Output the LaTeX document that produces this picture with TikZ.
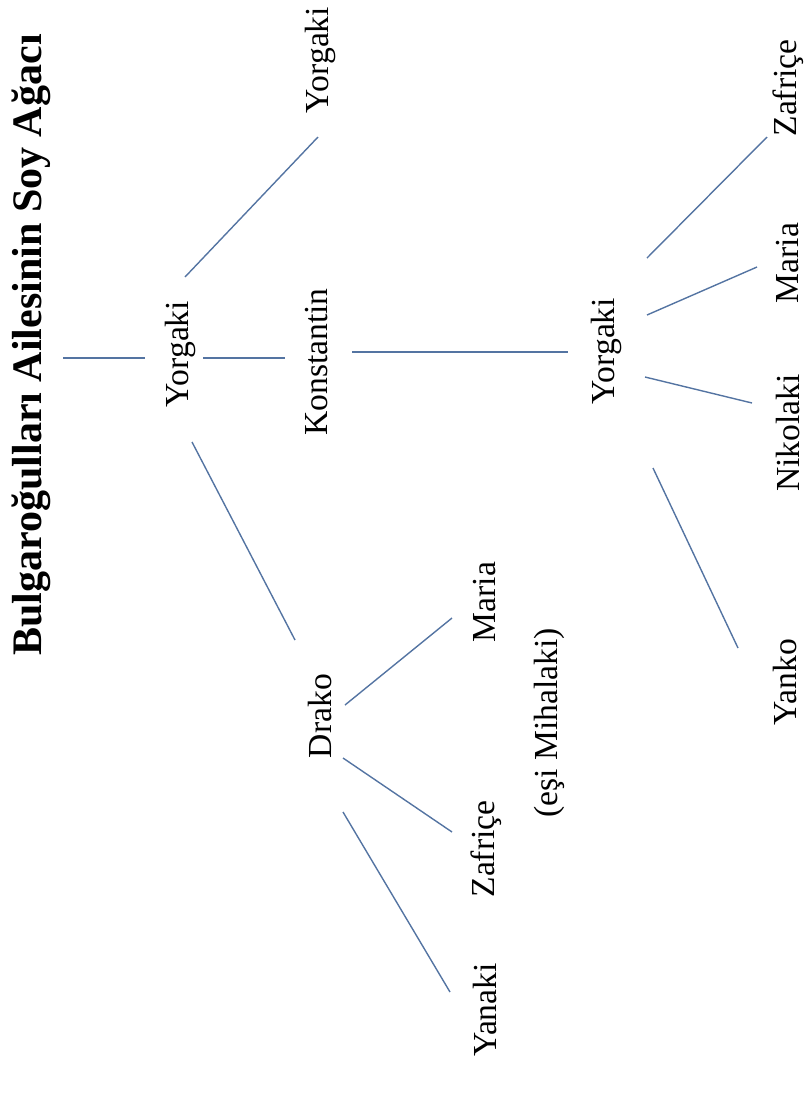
\documentclass[tikz,border=0pt]{standalone}
\usepackage{fontspec}
\setmainfont{Liberation Serif}
\usetikzlibrary{calc}
\definecolor{linkblue}{RGB}{84,116,162}

\begin{document}
\begin{tikzpicture}[x=0.357pt, y=-0.357pt,
    person/.style={rotate=90, inner sep=0pt, font=\fontsize{12}{14}\selectfont},
    link/.style={draw=linkblue, line width=0.5pt}]
  \useasboundingbox (0,0) rectangle (808,1109);

  % Title
  \node[rotate=90, inner sep=0pt, font=\fontsize{15}{18}\selectfont\bfseries] (title) at (31,345) {Bulgaroğulları Ailesinin Soy Ağacı};

  % First generations
  \node[person] (root) at (180,354) {Yorgaki};
  \node[person] (ytop) at (320,60) {Yorgaki};
  \node[person] (kon) at (317,362) {Konstantin};
  \node[person] (drako) at (320,716) {Drako};

  % Children of Drako
  \node[person] (maria1) at (485,602) {Maria};
  \node[person] (esi) at (549,723) {(eşi Mihalaki)};
  \node[person] (zaf1) at (486,849) {Zafriçe};
  \node[person] (yanaki) at (485,1010) {Yanaki};

  % Yorgaki and his children
  \node[person] (y2) at (606,351) {Yorgaki};
  \node[person] (zaf2) at (788,88) {Zafriçe};
  \node[person] (maria2) at (788,263) {Maria};
  \node[person] (niko) at (788,433) {Nikolaki};
  \node[person] (yanko) at (785,682) {Yanko};

  % Lines
  \draw[link] ($(title)+(32,13)$) -- ($(root)+(-35,4)$);
  \draw[link] ($(root)+(23,4)$) -- ($(kon)+(-32,-4)$);
  \draw[link] ($(kon)+(35,-10)$) -- ($(y2)+(-38,1)$);
  \draw[link] ($(root)+(5,-77)$) -- ($(ytop)+(-2,77)$);
  \draw[link] ($(root)+(12,88)$) -- ($(drako)+(-25,-76)$);
  \draw[link] ($(drako)+(25,-11)$) -- ($(maria1)+(-33,16)$);
  \draw[link] ($(drako)+(23,42)$) -- ($(zaf1)+(-34,-17)$);
  \draw[link] ($(drako)+(23,96)$) -- ($(yanaki)+(-35,-18)$);
  \draw[link] ($(y2)+(41,-93)$) -- ($(zaf2)+(-21,49)$);
  \draw[link] ($(y2)+(41,-36)$) -- ($(maria2)+(-31,4)$);
  \draw[link] ($(y2)+(39,26)$) -- ($(niko)+(-36,-30)$);
  \draw[link] ($(y2)+(47,117)$) -- ($(yanko)+(-47,-34)$);
\end{tikzpicture}
\end{document}
